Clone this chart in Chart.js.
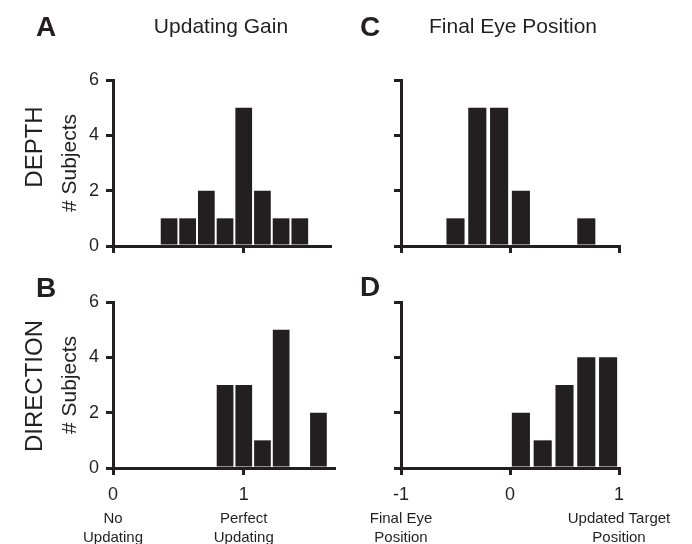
<!DOCTYPE html>
<html>
<head>
<meta charset="utf-8">
<script src="https://cdn.jsdelivr.net/npm/chart.js@4.4.1/dist/chart.umd.min.js"></script>
<style>
  body { margin: 0; background: #fff; }
  #wrap { position: relative; width: 692px; height: 544px; overflow: hidden; font-family: "Liberation Sans", Arial, sans-serif; color: #231f20; }
  #wrap canvas { position: absolute; left: 0; top: 0; }
  .lbl { position: absolute; line-height: 1; white-space: nowrap; transform: translate(-50%, -50%); }
  .letter { font-size: 28px; font-weight: bold; }
  .head { font-size: 21px; }
  .row { font-size: 24px; transform: translate(-50%, -50%) rotate(-90deg); }
</style>
</head>
<body>
<div id="wrap">
  <canvas id="panel-a" width="692" height="544"></canvas>
  <canvas id="panel-b" width="692" height="544"></canvas>
  <canvas id="panel-c" width="692" height="544"></canvas>
  <canvas id="panel-d" width="692" height="544"></canvas>

  <div class="lbl letter" style="left:46px; top:27px;">A</div>
  <div class="lbl head" style="left:221px; top:25px;">Updating Gain</div>
  <div class="lbl letter" style="left:370px; top:27px;">C</div>
  <div class="lbl head" style="left:513px; top:25px;">Final Eye Position</div>
  <div class="lbl letter" style="left:46px; top:288px;">B</div>
  <div class="lbl letter" style="left:370px; top:287px;">D</div>
  <div class="lbl row" style="left:34px; top:147px;">DEPTH</div>
  <div class="lbl row" style="left:34px; top:386px;">DIRECTION</div>
</div>

<script>
// histogram bins (centres) and counts
const gainBins = [0.429, 0.571, 0.714, 0.857, 1.0, 1.143, 1.286, 1.429, 1.571];
const depthGainCounts = [1, 1, 2, 1, 5, 2, 1, 1, 0];
const directionGainCounts = [0, 0, 0, 3, 3, 1, 5, 0, 2];

const eyeBins = [-0.5, -0.3, -0.1, 0.1, 0.3, 0.5, 0.7, 0.9];
const depthEyeCounts = [1, 5, 5, 2, 0, 0, 1, 0];
const directionEyeCounts = [0, 0, 0, 2, 1, 3, 4, 4];

// tick values and labels
const countTicks = [0, 2, 4, 6];
const gainTicks = [0, 1];
const gainTickNames = [["No", "Updating"], ["Perfect", "Updating"]];
const eyeTicks = [-1, 0, 1];
const eyeTickNames = [["Final Eye", "Position"], null, ["Updated Target", "Position"]];

const INK = "#231f20";
const FONT = "'Liberation Sans', Arial, sans-serif";
const W = 692;
const H = 544;

function makePanel(id, p) {
  const yWidth = p.yLabels ? 55 : 10;
  const xHeight = p.names ? 36 : 20;
  const x2Height = p.names ? 40 : 0;

  const scales = {
    x: {
      type: "linear",
      min: p.xMin,
      max: p.xMax,
      offset: false,
      afterBuildTicks: (s) => {
        s.ticks = p.xTicks.map((v) => ({ value: v }));
      },
      afterFit: (s) => {
        s.height = xHeight;
      },
      border: { display: true, color: INK, width: 3 },
      grid: { offset: false, drawOnChartArea: false, drawTicks: true, tickLength: 7, lineWidth: 3, color: INK },
      ticks: { display: !!p.names, color: INK, font: { family: FONT, size: 18 }, padding: 9, maxRotation: 0, autoSkip: false },
    },
    y: {
      type: "linear",
      min: 0,
      max: 6,
      afterBuildTicks: (s) => {
        s.ticks = countTicks.map((v) => ({ value: v }));
      },
      afterFit: (s) => {
        s.width = yWidth;
      },
      border: { display: true, color: INK, width: 3 },
      grid: { drawOnChartArea: false, drawTicks: true, tickLength: 7, lineWidth: 3, color: INK },
      ticks: { display: p.yLabels, color: INK, font: { family: FONT, size: 18 }, padding: 7 },
      title: { display: p.yLabels, text: "# Subjects", color: INK, font: { family: FONT, size: 21 }, padding: 0 },
    },
  };

  if (p.names) {
    scales.x2 = {
      type: "linear",
      axis: "x",
      position: "bottom",
      weight: 1,
      min: p.xMin,
      max: p.xMax,
      offset: false,
      afterBuildTicks: (s) => {
        s.ticks = p.xTicks.map((v) => ({ value: v }));
      },
      afterFit: (s) => {
        s.height = x2Height;
      },
      border: { display: false },
      grid: { display: false, drawTicks: false },
      ticks: {
        color: INK,
        font: { family: FONT, size: 15, lineHeight: 19 / 15 },
        padding: 5,
        maxRotation: 0,
        autoSkip: false,
        callback: (v) => {
          const i = p.xTicks.indexOf(v);
          return i >= 0 ? p.names[i] : null;
        },
      },
    };
  }

  return new Chart(document.getElementById(id), {
    type: "bar",
    data: {
      datasets: [
        {
          data: p.bins.map((b, i) => ({ x: b, y: p.counts[i] })),
          backgroundColor: INK,
          borderWidth: 0,
          barPercentage: 1,
          categoryPercentage: p.barRatio,
        },
      ],
    },
    options: {
      responsive: false,
      animation: false,
      devicePixelRatio: 1,
      layout: {
        padding: {
          left: p.area.left - yWidth,
          right: W - p.area.right,
          top: p.area.top,
          bottom: H - p.area.bottom - xHeight - x2Height,
        },
      },
      plugins: { legend: { display: false }, tooltip: { enabled: false } },
      scales,
    },
  });
}

makePanel("panel-a", {
  area: { left: 113, right: 330, top: 80, bottom: 246 },
  xMin: 0, xMax: 1.66, xTicks: gainTicks, names: null,
  bins: gainBins, counts: depthGainCounts, barRatio: 0.9, yLabels: true,
});

makePanel("panel-b", {
  area: { left: 113, right: 334, top: 302, bottom: 468 },
  xMin: 0, xMax: 1.69, xTicks: gainTicks, names: gainTickNames,
  bins: gainBins, counts: directionGainCounts, barRatio: 0.9, yLabels: true,
});

makePanel("panel-c", {
  area: { left: 401, right: 619, top: 80, bottom: 246 },
  xMin: -1, xMax: 1, xTicks: eyeTicks, names: null,
  bins: eyeBins, counts: depthEyeCounts, barRatio: 0.83, yLabels: false,
});

makePanel("panel-d", {
  area: { left: 401, right: 619, top: 302, bottom: 468 },
  xMin: -1, xMax: 1, xTicks: eyeTicks, names: eyeTickNames,
  bins: eyeBins, counts: directionEyeCounts, barRatio: 0.83, yLabels: false,
});
</script>
</body>
</html>
